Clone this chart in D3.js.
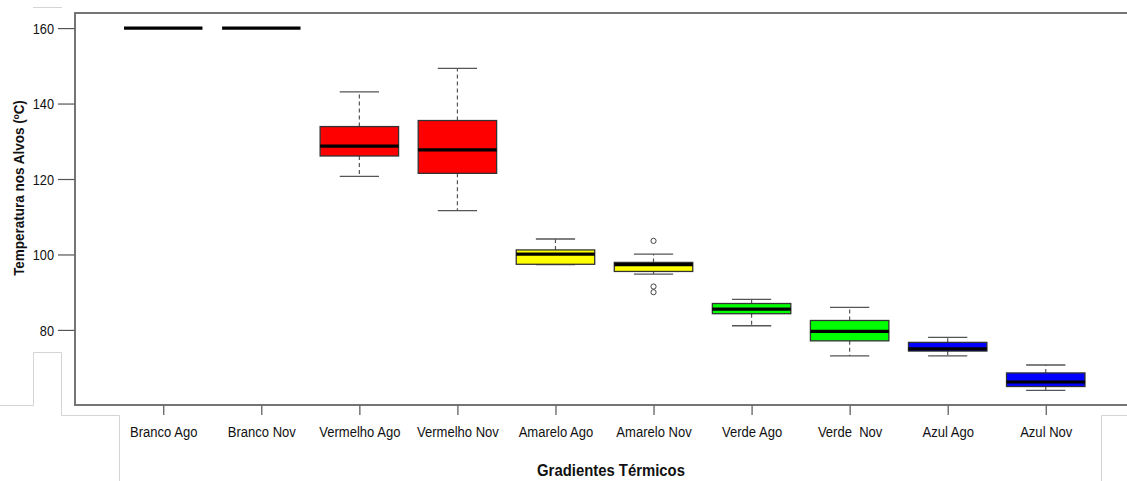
<!DOCTYPE html>
<html>
<head>
<meta charset="utf-8">
<script src="https://cdn.jsdelivr.net/npm/d3@7"></script>
<style>
  body { margin: 0; background: #fff; }
  svg { display: block; font-family: "Liberation Sans", Arial, sans-serif; }
  svg text { white-space: pre; }
  .axis path.domain { display: none; }
  .axis line { stroke: #555; stroke-width: 1.2; }
</style>
</head>
<body>
<div id="chart"></div>
<script>
// categorias e estatisticas
var categories  = ["Branco Ago", "Branco Nov", "Vermelho Ago", "Vermelho Nov", "Amarelo Ago",
                   "Amarelo Nov", "Verde Ago", "Verde  Nov", "Azul Ago", "Azul Nov"]
var whiskerLow  = [160, 160, 120.7, 111.6, 97.3, 94.8, 81.1, 73.1, 73.1, 64.0]
var q1          = [160, 160, 126.1, 121.5, 97.4, 95.5, 84.3, 77.1, 74.4, 65.0]
var medians     = [160, 160, 128.7, 127.7, 100.1, 97.3, 85.5, 79.6, 75.0, 66.2]
var q3          = [160, 160, 133.9, 135.5, 101.2, 97.9, 87.0, 82.5, 76.7, 68.6]
var whiskerHigh = [160, 160, 143.1, 149.3, 104.1, 100.1, 88.1, 86.0, 78.0, 70.7]
var outliers    = [[], [], [], [], [], [103.6, 91.5, 90.0], [], [], [], []]
var fills       = ["#ffffff", "#ffffff", "#ff0000", "#ff0000", "#ffff00",
                   "#ffff00", "#00ff00", "#00ff00", "#0000ff", "#0000ff"]
var yTicks      = [80, 100, 120, 140, 160]

var W = 1127, H = 481

var svg = d3.select("#chart").append("svg")
  .attr("width", W)
  .attr("height", H)

var x = d3.scaleLinear()
  .domain([0.1, 10.9])
  .range([75, 1134])

var y = d3.scaleLinear()
  .domain([60.1, 164])
  .range([405, 13])

var step = x(2) - x(1),
    boxW = step * 0.8,
    stapleW = boxW * 0.5

// sobras de recorte da imagem original (linhas cinza claras) //{{{
var ghost = svg.append("g")
  .attr("stroke", "#d4d4d4")
  .attr("stroke-width", 1)
  .attr("fill", "none")
ghost.append("path").attr("d", "M33,7.5H62")
ghost.append("path").attr("d", "M0,405.5H33.5V352.5H61.5V415.5H119.5V481")
ghost.append("path").attr("d", "M1101.5,481V415.5H1127")
//}}}

// eixo y
var yAxis = svg.append("g")
  .attr("class", "axis")
  .attr("transform", "translate(75,0)")
  .call(d3.axisLeft(y).tickValues(yTicks).tickSize(17).tickFormat(d3.format("d")))
yAxis.selectAll("text")
  .attr("x", -21 / 0.85)
  .attr("dy", "0.35em")
  .attr("transform", "scale(0.85,1)")
  .style("font-size", "15px")
  .style("fill", "#111")
  .style("font-family", "'Liberation Sans', Arial, sans-serif")

// eixo x
var xAxis = svg.append("g")
  .attr("class", "axis")
  .attr("transform", "translate(0,405)")
  .call(d3.axisBottom(x).tickValues(d3.range(1, 11)).tickSize(10)
    .tickFormat(d => categories[d - 1]))
xAxis.selectAll("text")
  .attr("y", 32)
  .attr("dy", 0)
  .attr("transform", "scale(0.87,1)")
  .style("font-size", "15px")
  .style("fill", "#111")
  .style("font-family", "'Liberation Sans', Arial, sans-serif")

// caixas
var boxes = svg.append("g")
  .selectAll("g")
  .data(categories.map((c, i) => ({ i: i + 1, lo: whiskerLow[i], q1: q1[i], med: medians[i],
                                    q3: q3[i], hi: whiskerHigh[i], out: outliers[i], fill: fills[i] })))
  .join("g")

boxes.append("line")
  .attr("x1", d => x(d.i)).attr("x2", d => x(d.i))
  .attr("y1", d => y(d.q3)).attr("y2", d => y(d.hi))
  .attr("stroke", "#555").attr("stroke-dasharray", "4,3").attr("stroke-width", 1.2)

boxes.append("line")
  .attr("x1", d => x(d.i)).attr("x2", d => x(d.i))
  .attr("y1", d => y(d.q1)).attr("y2", d => y(d.lo))
  .attr("stroke", "#555").attr("stroke-dasharray", "4,3").attr("stroke-width", 1.2)

boxes.selectAll(".staple")
  .data(d => [{ i: d.i, v: d.hi }, { i: d.i, v: d.lo }])
  .join("line")
  .attr("class", "staple")
  .attr("x1", d => x(d.i) - stapleW / 2).attr("x2", d => x(d.i) + stapleW / 2)
  .attr("y1", d => y(d.v)).attr("y2", d => y(d.v))
  .attr("stroke", "#555").attr("stroke-width", 1.3)

boxes.filter(d => d.q3 > d.q1).append("rect")
  .attr("x", d => x(d.i) - boxW / 2)
  .attr("width", boxW)
  .attr("y", d => y(d.q3))
  .attr("height", d => y(d.q1) - y(d.q3))
  .attr("fill", d => d.fill)
  .attr("stroke", "#333")
  .attr("stroke-width", 1.3)

boxes.append("line")
  .attr("x1", d => x(d.i) - boxW / 2).attr("x2", d => x(d.i) + boxW / 2)
  .attr("y1", d => y(d.med)).attr("y2", d => y(d.med))
  .attr("stroke", "#000").attr("stroke-width", 3.2)

boxes.selectAll("circle")
  .data(d => d.out.map(v => ({ i: d.i, v: v })))
  .join("circle")
  .attr("cx", d => x(d.i))
  .attr("cy", d => y(d.v))
  .attr("r", 2.6)
  .attr("fill", "none")
  .attr("stroke", "#444")
  .attr("stroke-width", 1)

// moldura
svg.append("rect")
  .attr("x", 75).attr("y", 13)
  .attr("width", x.range()[1] - 75)
  .attr("height", 405 - 13)
  .attr("fill", "none")
  .attr("stroke", "#666")
  .attr("stroke-width", 1.8)

// titulos
svg.append("text")
  .attr("transform", "translate(611,476) scale(0.93,1)")
  .attr("text-anchor", "middle")
  .style("font-size", "16px")
  .style("font-weight", "bold")
  .style("fill", "#111")
  .text("Gradientes Térmicos")

svg.append("text")
  .attr("transform", "translate(24,188) rotate(-90) scale(0.9,1)")
  .attr("text-anchor", "middle")
  .style("font-size", "15px")
  .style("font-weight", "bold")
  .style("fill", "#111")
  .text("Temperatura nos Alvos (ºC)")
</script>
</body>
</html>
